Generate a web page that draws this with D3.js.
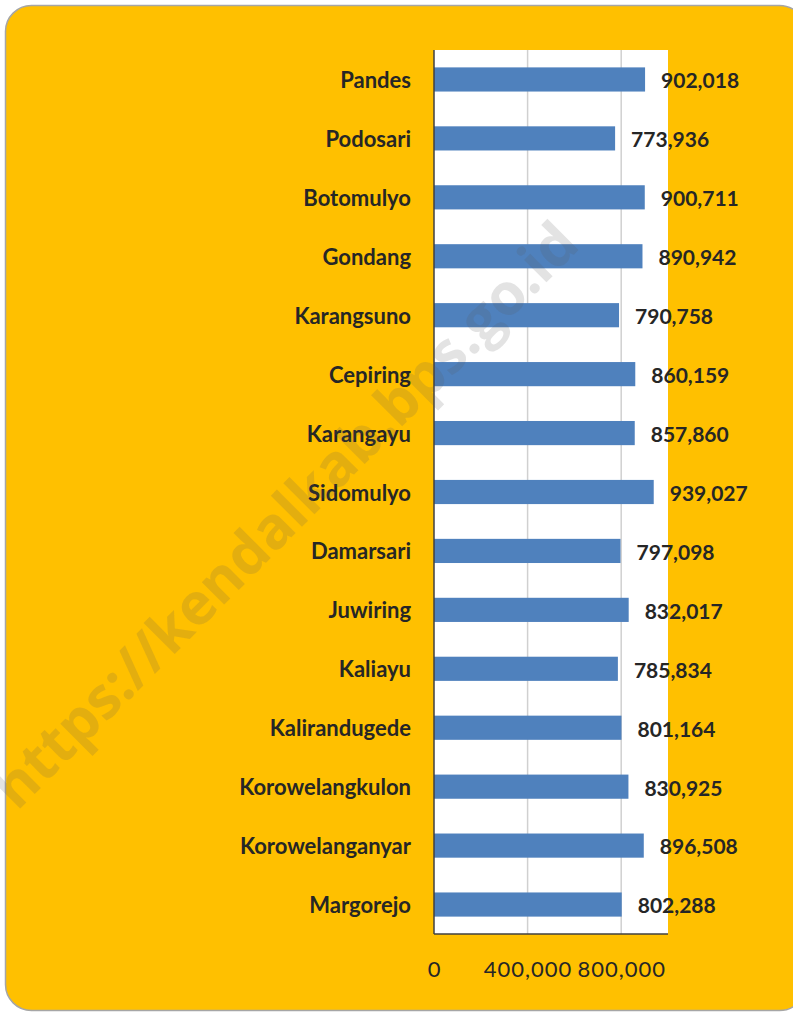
<!DOCTYPE html>
<html>
<head>
<meta charset="utf-8">
<script src="https://cdn.jsdelivr.net/npm/d3@7"></script>
<style>
  html, body { margin: 0; padding: 0; background: #ffffff; }
  svg { display: block; }
</style>
</head>
<body>
<svg id="chart" width="793" height="1013"></svg>
<script>
const categories = ["Pandes", "Podosari", "Botomulyo", "Gondang", "Karangsuno", "Cepiring", "Karangayu", "Sidomulyo", "Damarsari", "Juwiring", "Kaliayu", "Kalirandugede", "Korowelangkulon", "Korowelanganyar", "Margorejo"];
const values = [902018, 773936, 900711, 890942, 790758, 860159, 857860, 939027, 797098, 832017, 785834, 801164, 830925, 896508, 802288];
const tickValues = [0, 400000, 800000];
const watermarkText = "https://kendalkab.bps.go.id";

const svg = d3.select("#chart");

// background panel
svg.append("rect")
  .attr("x", 5.5).attr("y", 5.5)
  .attr("width", 800).attr("height", 1005)
  .attr("rx", 26).attr("ry", 26)
  .attr("fill", "#FFC000")
  .attr("stroke", "#A6A6A6")
  .attr("stroke-width", 1.5);

const plot = { left: 434, right: 668, top: 50, bottom: 934 };

const x = d3.scaleLinear().domain([0, 1000000]).range([plot.left, plot.right]);
const y = d3.scaleBand().domain(categories).range([plot.top, plot.bottom]).paddingInner(0.59).paddingOuter(0.295);

// plot area
svg.append("rect")
  .attr("x", plot.left).attr("y", plot.top)
  .attr("width", plot.right - plot.left).attr("height", plot.bottom - plot.top)
  .attr("fill", "#ffffff");

// gridlines
svg.append("g").selectAll("line")
  .data(tickValues.filter(d => d > 0))
  .join("line")
  .attr("x1", d => x(d)).attr("x2", d => x(d))
  .attr("y1", plot.top).attr("y2", plot.bottom)
  .attr("stroke", "#D0D0D0").attr("stroke-width", 1.5);

// bars
svg.append("g").selectAll("rect")
  .data(categories)
  .join("rect")
  .attr("x", x(0))
  .attr("y", d => y(d))
  .attr("width", (d, i) => x(values[i]) - x(0))
  .attr("height", y.bandwidth())
  .attr("fill", "#4F81BD");

// axes lines
svg.append("line")
  .attr("x1", plot.left).attr("x2", plot.left)
  .attr("y1", plot.top).attr("y2", plot.bottom)
  .attr("stroke", "#404040").attr("stroke-width", 1.5);
svg.append("line")
  .attr("x1", plot.left).attr("x2", plot.right)
  .attr("y1", plot.bottom).attr("y2", plot.bottom)
  .attr("stroke", "#404040").attr("stroke-width", 1.5);

// x axis tick labels
const xAxis = d3.axisBottom(x).tickValues(tickValues).tickSize(0).tickPadding(0)
  .tickFormat(d3.format(","));
const gx = svg.append("g").attr("transform", `translate(0, ${plot.bottom + 35})`).call(xAxis);
gx.select(".domain").remove();
gx.selectAll("text")
  .attr("dy", "0.35em")
  .attr("font-family", "Lato, 'Open Sans', sans-serif")
  .attr("font-size", 22)
  .attr("letter-spacing", "1px")
  .attr("fill", "#262626");

// category labels
const yAxis = d3.axisLeft(y).tickSize(0).tickPadding(23);
const gy = svg.append("g").attr("transform", `translate(${plot.left}, 1.5)`).call(yAxis);
gy.select(".domain").remove();
gy.selectAll("text")
  .attr("font-family", "Lato, 'Open Sans', sans-serif")
  .attr("font-weight", "bold")
  .attr("font-size", 22)
  .attr("fill", "#262626");

// value labels
svg.append("g").selectAll("text")
  .data(categories)
  .join("text")
  .attr("x", (d, i) => x(values[i]) + 16)
  .attr("y", d => y(d) + y.bandwidth() / 2 + 1.5)
  .attr("dy", "0.35em")
  .attr("font-family", "Lato, 'Open Sans', sans-serif")
  .attr("font-weight", "bold")
  .attr("font-size", 21)
  .attr("fill", "#262626")
  .text((d, i) => d3.format(",")(values[i]));

// watermark
svg.append("text")
  .attr("transform", "translate(285,515) rotate(-45)")
  .attr("text-anchor", "middle")
  .attr("dy", "0.35em")
  .attr("font-family", "'Open Sans', 'Noto Sans', sans-serif")
  .attr("font-weight", "bold")
  .attr("font-size", 58)
  .attr("fill", "rgba(90,90,90,0.17)")
  .text(watermarkText);
</script>
</body>
</html>
